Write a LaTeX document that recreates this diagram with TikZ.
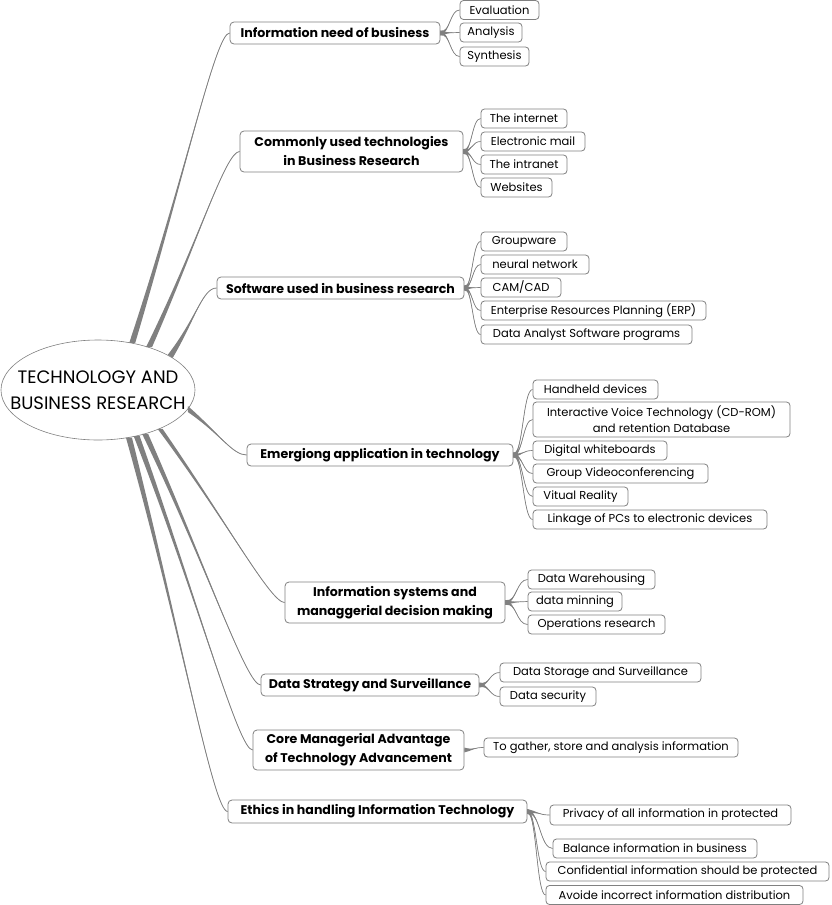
\documentclass[tikz,border=0pt]{standalone}
\usepackage{fontspec}
\setmainfont{Poppins}
\usetikzlibrary{calc,shapes.geometric}
\definecolor{boxgray}{RGB}{128,128,128}
\definecolor{linkgray}{RGB}{128,128,128}

% tapered connector from the central ellipse
\newcommand{\bough}[3]{%
  \fill[linkgray] ($(#1)+(#3)$) .. controls ($(#1)!0.55!(#2)$) and ($(#2)+(-14,0)$) .. (#2)
    .. controls ($(#2)+(-14,0)$) and ($(#1)!0.55!(#2)$) .. ($(#1)-(#3)$) -- cycle;
  \draw[linkgray,line width=0.8pt] (#1) .. controls ($(#1)!0.55!(#2)$) and ($(#2)+(-14,0)$) .. (#2);}
% tapered connector from a topic to a subtopic
\newcommand{\twig}[2]{%
  \fill[linkgray] ($(#1)+(0,2.4)$) .. controls ($(#1)!0.5!(#1-|#2)$) and ($(#2)!0.5!(#2-|#1)$) .. (#2)
    .. controls ($(#2)!0.5!(#2-|#1)$) and ($(#1)!0.5!(#1-|#2)$) .. ($(#1)-(0,2.4)$) -- cycle;
  \draw[linkgray,line width=0.7pt] (#1) .. controls ($(#1)!0.5!(#1-|#2)$) and ($(#2)!0.5!(#2-|#1)$) .. (#2);}

\begin{document}
\begin{tikzpicture}[x=1pt,y=-1pt]
    \tikzstyle{topic}=[draw=boxgray, line width=0.8pt, rounded corners=4pt, fill=white,
      align=center, inner sep=2pt, font=\fontsize{12.6}{19}\selectfont\bfseries]
    \tikzstyle{leaf}=[draw=boxgray, line width=0.8pt, rounded corners=3.5pt, fill=white,
      align=center, inner sep=1pt, minimum height=19pt, font=\fontsize{11.5}{16}\selectfont]
    \useasboundingbox (0,0) rectangle (832,905);

    % centre
    \node[ellipse, draw=boxgray, line width=0.6pt, minimum width=194pt, minimum height=100pt,
      inner sep=0pt] (root) at (98,390) {};
    \node[align=center, font=\fontsize{18}{26}\selectfont] (rootlabel) at (root.center)
      {TECHNOLOGY AND\\BUSINESS RESEARCH};

    % main topics
    \node[topic, minimum width=210pt, minimum height=22pt] (need) at (335,33) {Information need of business};
    \node[topic, minimum width=223pt, minimum height=41pt] (tech) at (351.5,151.5) {Commonly used technologies\\in Business Research};
    \node[topic, minimum width=247pt, minimum height=22pt] (soft) at (340.5,288) {Software used in business research};
    \node[topic, minimum width=266pt, minimum height=22pt] (emer) at (380,455) {Emergiong application in technology};
    \node[topic, minimum width=220pt, minimum height=41pt] (isys) at (395,602.5) {Information systems and\\managgerial decision making};
    \node[topic, minimum width=218pt, minimum height=22pt] (strat) at (370,685) {Data Strategy and Surveillance};
    \node[topic, minimum width=211pt, minimum height=40pt] (core) at (358.5,750) {Core Managerial Advantage\\of Technology Advancement};
    \node[topic, minimum width=299pt, minimum height=23pt] (ethic) at (377.5,811.5) {Ethics in handling Information Technology};

    % subtopics
    \node[leaf, minimum width=79pt] (eval) at (499.5,10) {Evaluation};
    \node[leaf, minimum width=62pt] (anal) at (491,32.5) {Analysis};
    \node[leaf, minimum width=69pt] (synt) at (494.5,56.5) {Synthesis};

    \node[leaf, minimum width=86pt] (inet) at (524,118.5) {The internet};
    \node[leaf, minimum width=104pt] (mail) at (533,141.5) {Electronic mail};
    \node[leaf, minimum width=86pt] (intra) at (524,164.5) {The intranet};
    \node[leaf, minimum width=71pt] (web) at (516.5,187.5) {Websites};

    \node[leaf, minimum width=86pt] (group) at (524,241.5) {Groupware};
    \node[leaf, minimum width=108pt] (neur) at (535,264.5) {neural network};
    \node[leaf, minimum width=80pt] (cam) at (521,287.5) {CAM/CAD};
    \node[leaf, minimum width=225pt] (erp) at (593.5,310.5) {Enterprise Resources Planning (ERP)};
    \node[leaf, minimum width=211pt] (dasp) at (586.5,334.5) {Data Analyst Software programs};

    \node[leaf, minimum width=125pt] (hand) at (595.5,389.5) {Handheld devices};
    \node[leaf, minimum width=257pt, minimum height=35pt] (ivt) at (661.5,419.5) {Interactive Voice Technology (CD-ROM)\\and retention Database};
    \node[leaf, minimum width=134pt] (white) at (600,450.5) {Digital whiteboards};
    \node[leaf, minimum width=175pt] (video) at (620.5,473.5) {Group Videoconferencing};
    \node[leaf, minimum width=95pt] (vr) at (580.5,496.5) {Vitual Reality};
    \node[leaf, minimum width=234pt] (link) at (650,519.5) {Linkage of PCs to electronic devices};

    \node[leaf, minimum width=127pt] (ware) at (591.5,579.5) {Data Warehousing};
    \node[leaf, minimum width=94pt] (mine) at (575,601.5) {data minning};
    \node[leaf, minimum width=137pt] (oper) at (596.5,624.5) {Operations research};

    \node[leaf, minimum width=201pt] (stor) at (600.5,672.5) {Data Storage and Surveillance};
    \node[leaf, minimum width=96pt] (secu) at (548,696.5) {Data security};

    \node[leaf, minimum width=254pt] (gath) at (611,747.5) {To gather, store and analysis information};

    \node[leaf, minimum width=241pt, minimum height=20pt] (priv) at (670.5,815) {Privacy of all information in protected};
    \node[leaf, minimum width=204pt] (bal) at (655,848.5) {Balance information in business};
    \node[leaf, minimum width=283pt] (conf) at (687.5,871.5) {Confidential information should be protected};
    \node[leaf, minimum width=257pt] (avoi) at (674.5,895) {Avoide incorrect information distribution};

    % connectors from the centre
    \bough{root.54}{need.west}{3,0}
    \bough{root.40}{tech.west}{3,0}
    \bough{root.25}{soft.west}{2.5,1.5}
    \bough{root.-12}{emer.west}{0,3}
    \bough{root.-32}{isys.west}{2.5,0}
    \bough{root.-43}{strat.west}{3,0}
    \bough{root.-50}{core.west}{3,0}
    \bough{root.-57}{ethic.west}{3,0}

    % connectors to the subtopics
    \foreach \c in {eval,anal,synt} \twig{need.east}{\c.west};
    \foreach \c in {inet,mail,intra,web} \twig{tech.east}{\c.west};
    \foreach \c in {group,neur,cam,erp,dasp} \twig{soft.east}{\c.west};
    \foreach \c in {hand,ivt,white,video,vr,link} \twig{emer.east}{\c.west};
    \foreach \c in {ware,mine,oper} \twig{isys.east}{\c.west};
    \foreach \c in {stor,secu} \twig{strat.east}{\c.west};
    \foreach \c in {gath} \twig{core.east}{\c.west};
    \foreach \c in {priv,bal,conf,avoi} \twig{ethic.east}{\c.west};
  \end{tikzpicture}
\end{document}
